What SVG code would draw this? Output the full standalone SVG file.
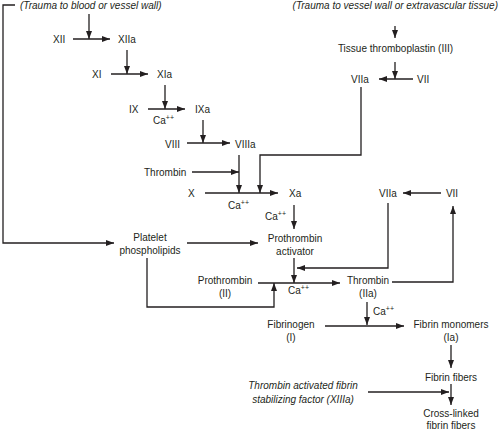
<svg xmlns="http://www.w3.org/2000/svg" width="500" height="430" viewBox="0 0 500 430">
<style>
text{font-family:"Liberation Sans",Arial,sans-serif;font-size:10px;fill:#231f20}
.i{font-style:italic}
.m{text-anchor:middle}
.sup{font-size:7px}
.c path,.c line,.c polyline{stroke:#231f20;stroke-width:1.3;fill:none}
</style>
<defs>
<marker id="ah" viewBox="0 0 8 6" refX="8" refY="3" markerWidth="8" markerHeight="6" orient="auto" markerUnits="userSpaceOnUse"><path d="M0,0 L8,3 L0,6 z" fill="#231f20"/></marker>
</defs>
<rect width="500" height="430" fill="#fff"/>
<g class="c" id="connectors">
<polyline points="15,5 3,5 3,243 114,243" marker-end="url(#ah)"/>
<line x1="89" y1="14" x2="89" y2="39" marker-end="url(#ah)"/>
<line x1="73" y1="39" x2="110" y2="39" marker-end="url(#ah)"/>
<line x1="127" y1="50" x2="127" y2="74" marker-end="url(#ah)"/>
<line x1="111" y1="74" x2="148" y2="74" marker-end="url(#ah)"/>
<line x1="165" y1="85" x2="165" y2="109" marker-end="url(#ah)"/>
<line x1="148" y1="109" x2="185" y2="109" marker-end="url(#ah)"/>
<line x1="203" y1="120" x2="203" y2="143" marker-end="url(#ah)"/>
<line x1="187" y1="143" x2="230" y2="143" marker-end="url(#ah)"/>
<line x1="239" y1="155" x2="239" y2="193" marker-end="url(#ah)"/>
<line x1="192" y1="172" x2="239" y2="172" marker-end="url(#ah)"/>
<line x1="205" y1="193" x2="278" y2="193" marker-end="url(#ah)"/>
<line x1="395" y1="26" x2="395" y2="38" marker-end="url(#ah)"/>
<line x1="395" y1="62" x2="395" y2="79" marker-end="url(#ah)"/>
<line x1="413" y1="79" x2="379" y2="79" marker-end="url(#ah)"/>
<polyline points="361,87 361,155 260,155 260,193" marker-end="url(#ah)"/>
<line x1="294" y1="205" x2="294" y2="229" marker-end="url(#ah)"/>
<line x1="187" y1="243" x2="258" y2="243" marker-end="url(#ah)"/>
<line x1="294" y1="258" x2="294" y2="283" marker-end="url(#ah)"/>
<polyline points="147,258 147,307 274,307 274,283" marker-end="url(#ah)"/>
<line x1="258" y1="283" x2="340" y2="283" marker-end="url(#ah)"/>
<line x1="441" y1="193" x2="403" y2="193" marker-end="url(#ah)"/>
<polyline points="388,203 388,268 297,268" marker-end="url(#ah)"/>
<polyline points="392,282 453,282 453,206" marker-end="url(#ah)"/>
<line x1="367" y1="302" x2="367" y2="325" marker-end="url(#ah)"/>
<line x1="325" y1="326" x2="404" y2="326" marker-end="url(#ah)"/>
<line x1="451" y1="345" x2="451" y2="368" marker-end="url(#ah)"/>
<line x1="451" y1="384" x2="451" y2="405" marker-end="url(#ah)"/>
<line x1="368" y1="392" x2="449" y2="392" marker-end="url(#ah)"/>
</g>
<g id="trauma-blood"><text class="i" x="20" y="9">(Trauma to blood or vessel wall)</text></g>
<g id="trauma-tissue"><text class="i" x="498" y="9" text-anchor="end">(Trauma to vessel wall or extravascular tissue)</text></g>
<g id="xii"><text x="53" y="43">XII</text></g>
<g id="xiia"><text x="118" y="43">XIIa</text></g>
<g id="xi"><text x="92" y="78">XI</text></g>
<g id="xia"><text x="157" y="78">XIa</text></g>
<g id="ix"><text x="129" y="113">IX</text></g>
<g id="ixa"><text x="195" y="113">IXa</text></g>
<g id="ca1"><text x="153" y="124">Ca<tspan class="sup" dy="-4">++</tspan></text></g>
<g id="viii"><text x="165" y="148">VIII</text></g>
<g id="viiia"><text x="235" y="148">VIIIa</text></g>
<g id="thrombin-1"><text x="144" y="176">Thrombin</text></g>
<g id="x"><text x="188" y="197">X</text></g>
<g id="xa"><text x="289" y="197">Xa</text></g>
<g id="ca2"><text x="228" y="209">Ca<tspan class="sup" dy="-4">++</tspan></text></g>
<g id="tissue"><text class="m" x="395.5" y="52">Tissue thromboplastin (III)</text></g>
<g id="viia-1"><text class="m" x="360" y="83">VIIa</text></g>
<g id="vii-1"><text x="417" y="83">VII</text></g>
<g id="ca3"><text x="265" y="220">Ca<tspan class="sup" dy="-4">++</tspan></text></g>
<g id="prothrombin-activator"><text class="m" x="295" y="242">Prothrombin</text><text class="m" x="295" y="255">activator</text></g>
<g id="platelet"><text class="m" x="150" y="241">Platelet</text><text class="m" x="150" y="254">phospholipids</text></g>
<g id="viia-2"><text class="m" x="388" y="197">VIIa</text></g>
<g id="vii-2"><text class="m" x="452" y="197">VII</text></g>
<g id="prothrombin"><text class="m" x="225" y="284">Prothrombin</text><text class="m" x="225" y="297">(II)</text></g>
<g id="ca4"><text x="288" y="294">Ca<tspan class="sup" dy="-4">++</tspan></text></g>
<g id="thrombin-2"><text class="m" x="368" y="284">Thrombin</text><text class="m" x="368" y="297">(IIa)</text></g>
<g id="ca5"><text x="373" y="315">Ca<tspan class="sup" dy="-4">++</tspan></text></g>
<g id="fibrinogen"><text class="m" x="291" y="328">Fibrinogen</text><text class="m" x="291" y="341">(I)</text></g>
<g id="fibrin-monomers"><text class="m" x="451" y="328">Fibrin monomers</text><text class="m" x="451" y="341">(Ia)</text></g>
<g id="fibrin-fibers"><text class="m" x="451" y="381">Fibrin fibers</text></g>
<g id="xiiia"><text class="i m" x="303" y="389">Thrombin activated fibrin</text><text class="i m" x="303" y="403">stabilizing factor (XIIIa)</text></g>
<g id="cross-linked"><text class="m" x="451" y="417">Cross-linked</text><text class="m" x="451" y="429">fibrin fibers</text></g>
</svg>
